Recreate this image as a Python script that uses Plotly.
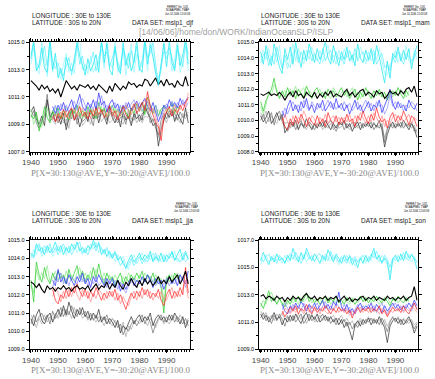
import plotly.graph_objects as go

# ---------------- time axes (annual values) ----------------
YEARS = list(range(1940, 1999))        # 59 values
YEARS_GREEN = list(range(1940, 1996))  # 56 values
YEARS_LATE = list(range(1948, 1999))   # 51 values
DECADE_TICKS = [1940, 1950, 1960, 1970, 1980, 1990]
DECADE_LABELS = ["1940", "1950", "1960", "1970", "1980", "1990"]

# ================= DJF =================
DJF_CYAN_A = [1013.8, 1015.2, 1012.9, 1013.4, 1014.6, 1013.1, 1012.8, 1015.3, 1013.0, 1014.2,
              1012.4, 1013.1, 1012.2, 1013.9, 1013.2, 1012.9, 1013.5, 1015.1, 1014.0, 1013.2,
              1012.6, 1013.8, 1012.9, 1013.4, 1014.1, 1012.8, 1015.2, 1013.5, 1014.9, 1013.0,
              1012.6, 1014.7, 1013.2, 1012.7, 1015.0, 1013.3, 1014.2, 1012.9, 1013.6, 1015.2,
              1013.1, 1012.8, 1015.3, 1013.4, 1014.8, 1013.9, 1012.7, 1012.0, 1013.6, 1014.9,
              1013.2, 1015.1, 1013.5, 1012.9, 1014.8, 1013.3, 1014.1, 1015.2, 1013.4]
DJF_CYAN_B = [1013.4, 1014.6, 1013.2, 1012.7, 1015.1, 1013.6, 1012.5, 1014.4, 1012.8, 1013.7,
              1012.9, 1012.3, 1013.4, 1014.2, 1012.8, 1013.5, 1012.7, 1014.6, 1015.2, 1013.0,
              1013.4, 1012.7, 1014.0, 1012.8, 1013.3, 1013.9, 1014.5, 1013.1, 1015.3, 1013.6,
              1013.1, 1015.2, 1012.8, 1013.5, 1014.4, 1012.6, 1013.8, 1014.9, 1012.8, 1014.1,
              1013.6, 1013.2, 1014.6, 1012.9, 1015.2, 1014.3, 1013.0, 1012.4, 1012.9, 1015.1,
              1013.8, 1014.3, 1012.9, 1013.7, 1015.3, 1012.8, 1013.6, 1014.7, 1012.9]
DJF_CYAN_C = [1014.1, 1014.9, 1013.6, 1013.1, 1013.8, 1014.7, 1013.3, 1015.0, 1013.6, 1013.1,
              1013.5, 1012.7, 1012.6, 1013.3, 1013.9, 1012.6, 1013.9, 1014.8, 1013.4, 1014.0,
              1012.9, 1013.2, 1013.5, 1014.3, 1012.9, 1013.6, 1014.9, 1014.0, 1014.3, 1013.2,
              1013.8, 1014.5, 1013.6, 1012.9, 1014.6, 1013.8, 1013.1, 1014.4, 1013.5, 1014.7,
              1012.9, 1013.7, 1015.1, 1013.9, 1014.2, 1015.0, 1013.5, 1011.8, 1013.2, 1014.3,
              1014.2, 1014.6, 1013.9, 1013.1, 1014.5, 1014.0, 1013.2, 1015.3, 1014.1]
DJF_THICK = [1012.2, 1012.0, 1011.8, 1011.5, 1011.9, 1011.6, 1011.8, 1011.4, 1011.6, 1011.3,
             1011.6, 1011.0, 1011.7, 1012.2, 1011.9, 1011.6, 1011.8, 1011.5, 1011.9, 1011.8,
             1011.7, 1011.9, 1011.6, 1011.8, 1011.5, 1011.9, 1011.7, 1011.5, 1011.3, 1011.8,
             1011.4, 1012.0, 1011.7, 1011.5, 1011.8, 1011.6, 1012.1, 1011.9, 1012.0, 1011.7,
             1011.9, 1011.8, 1012.3, 1012.2, 1011.8, 1012.1, 1012.4, 1011.9, 1012.2, 1011.8,
             1012.3, 1011.9, 1012.0, 1011.7, 1012.2, 1011.9, 1011.8, 1012.5, 1011.8]
DJF_GRAY_A = [1009.9, 1010.3, 1009.4, 1009.0, 1009.6, 1008.9, 1010.8, 1009.5, 1009.9, 1009.2,
              1009.6, 1009.0, 1009.8, 1008.6, 1009.4, 1010.1, 1009.3, 1009.7, 1008.8, 1009.5,
              1009.8, 1009.2, 1010.2, 1009.4, 1009.9, 1009.1, 1010.0, 1009.6, 1009.0, 1010.3,
              1009.5, 1009.1, 1009.7, 1008.8, 1009.9, 1009.3, 1009.6, 1008.9, 1009.8, 1009.4,
              1009.7, 1009.3, 1010.4, 1009.8, 1009.5, 1008.9, 1009.1, 1007.4, 1008.6, 1009.3,
              1009.9, 1009.5, 1010.1, 1009.2, 1009.8, 1009.4, 1009.0, 1010.2, 1009.1]
DJF_GRAY_B = [1009.5, 1010.0, 1009.1, 1008.7, 1009.3, 1009.7, 1011.2, 1009.2, 1009.5, 1009.8,
              1009.1, 1009.6, 1009.3, 1008.9, 1009.9, 1009.4, 1010.2, 1009.0, 1009.6, 1009.2,
              1009.4, 1009.9, 1009.5, 1008.9, 1010.3, 1009.5, 1009.7, 1010.1, 1009.3, 1009.7,
              1009.9, 1009.4, 1009.1, 1009.5, 1009.6, 1009.0, 1010.1, 1009.4, 1009.3, 1010.0,
              1009.2, 1009.8, 1009.9, 1010.2, 1009.1, 1009.4, 1008.7, 1008.2, 1009.3, 1009.8,
              1009.4, 1010.0, 1009.6, 1009.8, 1009.3, 1009.9, 1009.5, 1009.7, 1009.6]
DJF_GRAY_C = [1010.1, 1009.6, 1009.8, 1008.8, 1009.1, 1009.4, 1010.6, 1010.0, 1009.3, 1009.0,
              1009.8, 1009.3, 1009.1, 1009.4, 1008.7, 1009.9, 1009.6, 1009.3, 1009.9, 1008.9,
              1009.2, 1009.6, 1009.0, 1009.7, 1009.5, 1009.8, 1009.2, 1009.5, 1009.6, 1009.1,
              1009.3, 1009.7, 1009.4, 1009.2, 1009.0, 1009.6, 1009.8, 1009.1, 1009.7, 1009.1,
              1009.5, 1009.1, 1009.6, 1009.5, 1009.8, 1009.2, 1009.4, 1008.0, 1008.9, 1009.6,
              1009.1, 1009.7, 1009.9, 1009.4, 1009.5, 1009.1, 1009.8, 1009.4, 1009.9]
DJF_GREEN_A = [1009.7, 1009.4, 1009.9, 1008.5, 1009.2, 1010.3, 1009.5, 1009.1, 1010.0, 1009.6,
               1010.2, 1009.4, 1010.0, 1009.7, 1009.3, 1010.1, 1009.8, 1010.4, 1009.6, 1010.0,
               1009.5, 1010.3, 1009.7, 1010.1, 1009.4, 1010.6, 1009.9, 1010.2, 1009.5, 1010.0,
               1010.4, 1009.8, 1010.1, 1009.6, 1010.3, 1009.9, 1009.5, 1010.2, 1009.8, 1010.5,
               1010.0, 1010.6, 1009.7, 1011.0, 1010.3, 1009.8, 1010.4, 1009.6, 1010.1, 1010.3,
               1009.9, 1010.2, 1010.6, 1009.8, 1010.3, 1010.1]
DJF_GREEN_B = [1010.1, 1009.0, 1009.6, 1009.2, 1008.8, 1009.8, 1010.2, 1009.4, 1009.7, 1010.3,
               1009.6, 1009.9, 1009.4, 1010.3, 1009.8, 1009.5, 1010.1, 1009.7, 1010.3, 1009.4,
               1010.0, 1009.6, 1010.2, 1009.5, 1010.0, 1009.7, 1010.3, 1009.6, 1010.1, 1009.8,
               1009.7, 1010.2, 1009.6, 1010.3, 1009.8, 1010.4, 1010.0, 1009.7, 1010.5, 1010.1,
               1010.3, 1009.9, 1010.5, 1010.6, 1009.9, 1010.2, 1009.8, 1010.1, 1009.7, 1010.4,
               1010.3, 1009.7, 1010.1, 1010.5, 1009.9, 1010.4]
DJF_BLUE_A = [1010.3, 1009.8,
              1010.4, 1010.0, 1010.6, 1009.9, 1010.3, 1010.8, 1010.1, 1010.5, 1011.2, 1010.3,
              1010.0, 1010.6, 1010.2, 1010.8, 1010.1, 1011.3, 1010.4, 1010.7, 1009.9, 1010.5,
              1010.8, 1010.2, 1010.5, 1009.8, 1010.4, 1010.1, 1010.6, 1010.0, 1010.3, 1010.7,
              1010.2, 1010.5, 1010.9, 1010.3, 1010.0, 1010.6, 1009.8, 1009.2, 1009.7, 1010.4,
              1010.1, 1010.8, 1010.3, 1010.6, 1010.2, 1010.9, 1010.4, 1010.7, 1011.0]
DJF_BLUE_B = [1009.9, 1010.4,
              1009.8, 1010.5, 1010.0, 1010.4, 1009.9, 1010.3, 1010.7, 1010.0, 1010.6, 1010.9,
              1010.4, 1009.9, 1010.5, 1010.1, 1010.7, 1010.3, 1011.1, 1010.2, 1010.4, 1009.8,
              1010.3, 1010.6, 1010.0, 1010.4, 1009.9, 1010.6, 1010.2, 1010.5, 1010.8, 1010.1,
              1010.6, 1010.0, 1010.4, 1010.7, 1010.3, 1009.9, 1010.4, 1009.6, 1009.4, 1010.1,
              1010.5, 1010.2, 1010.7, 1010.1, 1010.6, 1010.3, 1010.8, 1010.2, 1010.6]
DJF_RED_A = [1009.6, 1009.2,
             1009.8, 1009.4, 1010.1, 1009.5, 1009.9, 1010.2, 1009.3, 1009.8, 1010.3, 1009.6,
             1009.9, 1009.4, 1010.0, 1009.6, 1010.2, 1009.7, 1010.1, 1009.5, 1009.8, 1010.4,
             1009.6, 1010.0, 1009.3, 1009.9, 1010.3, 1009.7, 1009.4, 1010.1, 1010.5, 1009.8,
             1010.2, 1010.6, 1010.0, 1011.4, 1010.3, 1009.7, 1009.1, 1008.8, 1007.8, 1009.5,
             1009.9, 1010.3, 1009.6, 1010.1, 1009.8, 1010.4, 1010.0, 1010.6, 1010.9]
DJF_RED_B = [1009.3, 1009.8,
             1009.2, 1009.9, 1009.5, 1010.0, 1009.4, 1009.7, 1010.1, 1009.5, 1009.9, 1010.2,
             1009.5, 1010.0, 1009.4, 1010.1, 1009.6, 1010.3, 1009.8, 1010.0, 1009.5, 1009.9,
             1010.1, 1009.5, 1010.0, 1009.6, 1009.9, 1010.4, 1009.9, 1009.7, 1010.2, 1010.6,
             1009.9, 1010.3, 1010.8, 1010.9, 1009.8, 1010.2, 1009.5, 1009.0, 1008.4, 1009.8,
             1010.2, 1009.7, 1010.1, 1010.4, 1009.9, 1010.1, 1010.5, 1010.2, 1011.3]

# ================= MAM =================
MAM_CYAN_A = [1014.4, 1013.6, 1014.8, 1014.0, 1013.5, 1014.9, 1014.2, 1013.4, 1013.0, 1014.6,
              1013.9, 1014.7, 1013.6, 1015.0, 1014.1, 1013.4, 1014.5, 1013.8, 1014.9, 1014.2,
              1013.7, 1014.6, 1013.9, 1014.3, 1015.1, 1014.0, 1013.6, 1014.8, 1014.2, 1013.5,
              1014.4, 1013.9, 1014.7, 1013.8, 1014.2, 1013.5, 1014.9, 1014.0, 1013.7, 1014.5,
              1013.9, 1014.6, 1013.6, 1014.8, 1014.1, 1013.2, 1012.4, 1013.8, 1012.7, 1014.3,
              1014.0, 1014.7, 1013.8, 1014.5, 1013.9, 1014.6, 1013.3, 1014.2, 1014.8]
MAM_CYAN_B = [1014.0, 1014.5, 1013.9, 1014.6, 1013.8, 1014.3, 1013.7, 1014.8, 1013.4, 1013.9,
              1013.3, 1014.2, 1014.9, 1013.8, 1014.6, 1014.0, 1013.6, 1014.5, 1013.9, 1014.7,
              1014.1, 1013.8, 1014.5, 1013.7, 1014.4, 1014.8, 1013.9, 1014.2, 1013.6, 1014.5,
              1013.8, 1014.6, 1014.0, 1014.4, 1013.7, 1014.3, 1014.0, 1014.7, 1014.1, 1013.6,
              1014.4, 1013.8, 1014.3, 1013.9, 1014.6, 1013.7, 1013.0, 1012.9, 1013.6, 1013.8,
              1014.5, 1013.7, 1014.3, 1013.9, 1014.8, 1013.8, 1013.6, 1014.5, 1013.9]
MAM_CYAN_C = [1013.7, 1014.2, 1014.4, 1013.5, 1014.1, 1013.6, 1014.7, 1014.0, 1013.3, 1014.2,
              1013.6, 1013.4, 1014.3, 1014.5, 1013.7, 1014.4, 1013.9, 1014.1, 1014.5, 1013.8,
              1014.3, 1013.9, 1013.6, 1014.6, 1013.8, 1014.3, 1014.5, 1013.7, 1014.4, 1013.9,
              1014.1, 1013.6, 1014.3, 1014.5, 1013.9, 1014.6, 1013.8, 1014.2, 1014.4, 1013.9,
              1013.8, 1014.2, 1014.5, 1013.6, 1014.0, 1014.3, 1013.4, 1013.5, 1013.2, 1014.1,
              1013.7, 1014.4, 1014.0, 1013.6, 1014.3, 1014.1, 1013.8, 1014.0, 1014.4]
MAM_THICK = [1011.7, 1011.6, 1011.7, 1011.8, 1011.6, 1011.7, 1011.6, 1011.8, 1011.6, 1011.3,
             1011.6, 1011.8, 1011.5, 1011.9, 1011.6, 1011.7, 1011.4, 1011.8, 1011.6, 1011.5,
             1011.8, 1011.4, 1011.7, 1011.5, 1011.8, 1011.6, 1011.9, 1011.5, 1011.7, 1011.6,
             1011.5, 1011.8, 1012.0, 1011.6, 1011.8, 1011.5, 1011.7, 1011.9, 1012.0, 1011.6,
             1011.8, 1011.7, 1011.5, 1011.9, 1011.7, 1011.8, 1011.4, 1011.6, 1011.9, 1011.7,
             1011.8, 1011.6, 1011.9, 1011.7, 1012.0, 1012.1, 1011.8, 1012.2, 1011.5]
MAM_GRAY_A = [1010.3, 1009.9, 1010.2, 1010.6, 1009.8, 1010.1, 1010.5, 1010.0, 1010.4, 1009.2,
              1009.5, 1009.9, 1009.6, 1010.0, 1009.4, 1009.8, 1009.6, 1010.1, 1009.7, 1009.4,
              1009.8, 1009.5, 1009.9, 1009.6, 1010.0, 1009.7, 1009.4, 1009.8, 1009.5, 1009.9,
              1009.7, 1010.0, 1009.5, 1009.8, 1009.3, 1009.7, 1009.9, 1009.4, 1009.8, 1009.6,
              1009.9, 1009.5, 1009.8, 1009.6, 1010.0, 1009.4, 1008.3, 1009.1, 1009.6, 1009.9,
              1009.5, 1009.8, 1009.6, 1010.0, 1009.7, 1009.4, 1009.8, 1009.5, 1008.9]
MAM_GRAY_B = [1010.0, 1010.4, 1009.8, 1010.2, 1010.5, 1009.7, 1010.3, 1010.6, 1009.9, 1009.6,
              1009.3, 1009.7, 1009.9, 1009.4, 1009.8, 1010.0, 1009.5, 1009.6, 1009.9, 1009.7,
              1009.4, 1009.8, 1009.6, 1009.9, 1009.5, 1009.8, 1010.0, 1009.6, 1009.3, 1009.7,
              1009.9, 1009.4, 1009.8, 1009.6, 1009.9, 1009.5, 1009.7, 1009.9, 1009.5, 1009.8,
              1009.6, 1009.9, 1009.4, 1009.7, 1009.5, 1009.8, 1008.6, 1009.4, 1009.8, 1009.5,
              1009.8, 1009.6, 1009.9, 1009.5, 1009.8, 1009.6, 1009.9, 1009.3, 1009.4]
MAM_GRAY_C = [1010.5, 1010.1, 1010.6, 1009.9, 1010.3, 1010.0, 1009.8, 1010.3, 1010.1, 1009.8,
              1009.9, 1009.5, 1009.8, 1009.7, 1009.5, 1009.9, 1009.7, 1009.4, 1009.8, 1009.5,
              1009.7, 1009.6, 1009.8, 1009.4, 1009.7, 1009.5, 1009.8, 1009.4, 1009.7, 1009.5,
              1009.6, 1009.8, 1009.7, 1009.4, 1009.6, 1009.9, 1009.5, 1009.7, 1009.6, 1009.9,
              1009.7, 1009.6, 1009.9, 1009.5, 1009.7, 1009.6, 1008.9, 1009.5, 1009.6, 1009.7,
              1009.6, 1009.9, 1009.5, 1009.8, 1009.6, 1009.8, 1009.5, 1009.7, 1009.2]
MAM_GREEN_A = [1011.2, 1010.6, 1011.3, 1011.6, 1012.0, 1012.7, 1011.8, 1011.4, 1011.9, 1011.5,
               1012.1, 1011.6, 1011.9, 1011.4, 1012.0, 1011.7, 1011.5, 1012.2, 1011.8, 1011.4,
               1011.9, 1012.1, 1011.6, 1011.8, 1011.4, 1012.0, 1011.7, 1011.9, 1011.5, 1011.8,
               1012.1, 1011.6, 1011.9, 1011.4, 1011.7, 1012.0, 1011.3, 1011.8, 1011.5, 1012.1,
               1011.7, 1011.4, 1011.9, 1011.6, 1012.0, 1011.5, 1011.8, 1011.3, 1011.7, 1011.9,
               1011.6, 1012.1, 1011.7, 1011.4, 1011.9, 1011.6]
MAM_GREEN_B = [1010.9, 1010.4, 1011.0, 1011.9, 1011.6, 1012.3, 1012.0, 1011.5, 1011.7, 1011.9,
               1011.6, 1012.0, 1011.7, 1012.2, 1011.5, 1011.9, 1012.1, 1011.6, 1011.9, 1011.7,
               1011.5, 1011.8, 1012.0, 1011.5, 1011.9, 1011.6, 1011.4, 1012.1, 1011.8, 1011.5,
               1011.8, 1011.9, 1011.5, 1011.8, 1012.1, 1011.6, 1011.8, 1011.4, 1011.9, 1011.7,
               1011.9, 1011.7, 1011.4, 1011.9, 1011.6, 1011.8, 1011.4, 1011.7, 1011.9, 1011.5,
               1011.9, 1011.6, 1012.0, 1011.8, 1011.5, 1011.9]
MAM_BLUE_A = [1010.6, 1010.2,
              1010.9, 1011.3, 1010.6, 1011.0, 1010.5, 1011.2, 1010.8, 1011.4, 1010.7, 1011.0,
              1010.5, 1011.1, 1010.8, 1011.3, 1010.6, 1010.9, 1011.2, 1010.7, 1011.4, 1010.8,
              1011.1, 1010.6, 1011.0, 1010.4, 1010.9, 1011.3, 1010.7, 1011.0, 1010.5, 1010.9,
              1011.2, 1010.6, 1011.0, 1010.8, 1011.3, 1010.5, 1010.9, 1011.4, 1012.0, 1011.1,
              1010.7, 1011.2, 1010.8, 1011.0, 1010.6, 1011.3, 1010.9, 1010.7, 1011.1]
MAM_BLUE_B = [1010.3, 1010.8,
              1010.4, 1010.9, 1011.2, 1010.7, 1011.0, 1010.6, 1011.3, 1010.9, 1010.6, 1011.2,
              1010.9, 1010.7, 1011.1, 1010.6, 1011.0, 1011.3, 1010.8, 1011.1, 1010.7, 1011.0,
              1010.7, 1011.2, 1010.8, 1011.1, 1010.6, 1010.9, 1011.2, 1010.6, 1011.0, 1011.3,
              1010.8, 1011.1, 1010.6, 1011.2, 1010.9, 1011.0, 1010.4, 1010.8, 1011.6, 1010.9,
              1011.2, 1010.8, 1011.1, 1010.6, 1011.0, 1010.8, 1011.2, 1011.0, 1010.6]
MAM_RED_A = [1010.2, 1009.6,
             1009.4, 1010.1, 1009.7, 1010.3, 1009.8, 1010.4, 1010.0, 1009.6, 1010.2, 1009.9,
             1009.7, 1010.3, 1009.8, 1010.1, 1009.6, 1010.5, 1010.0, 1009.8, 1010.3, 1009.7,
             1010.2, 1009.8, 1010.4, 1009.9, 1010.1, 1009.6, 1010.3, 1010.0, 1010.6, 1010.1,
             1009.8, 1010.4, 1010.0, 1010.8, 1010.2, 1009.9, 1010.1, 1009.5, 1010.2, 1010.5,
             1009.9, 1010.3, 1010.0, 1010.6, 1010.2, 1009.7, 1010.3, 1010.1, 1009.6]
MAM_RED_B = [1009.8, 1010.4,
             1009.9, 1009.6, 1010.3, 1009.8, 1010.2, 1010.0, 1010.6, 1010.1, 1009.7, 1010.3,
             1010.1, 1009.6, 1010.2, 1009.9, 1010.4, 1009.8, 1010.1, 1010.3, 1009.9, 1010.2,
             1009.8, 1010.2, 1009.9, 1010.4, 1009.8, 1010.3, 1009.9, 1010.5, 1010.1, 1009.8,
             1010.3, 1009.9, 1010.5, 1010.2, 1009.8, 1010.3, 1009.6, 1010.0, 1009.8, 1010.2,
             1010.4, 1009.8, 1010.3, 1009.9, 1010.1, 1010.4, 1009.8, 1010.2, 1010.0]

# ================= JJA =================
JJA_CYAN_A = [1014.3, 1014.1, 1014.8, 1014.4, 1014.6, 1014.2, 1014.7, 1014.3, 1014.5, 1014.9,
              1014.4, 1014.7, 1014.2, 1014.6, 1014.3, 1014.8, 1014.5, 1014.9, 1014.4, 1014.6,
              1014.3, 1014.7, 1014.5, 1015.0, 1014.6, 1014.8, 1014.2, 1014.5, 1014.1, 1014.4,
              1014.0, 1014.3, 1013.9, 1014.1, 1013.7, 1013.5, 1013.9, 1014.2, 1013.8, 1014.0,
              1014.3, 1013.9, 1014.2, 1014.0, 1014.4, 1013.8, 1014.1, 1013.9, 1014.3, 1013.8,
              1014.2, 1014.0, 1014.4, 1013.9, 1014.2, 1014.5, 1013.9, 1014.3, 1014.0]
JJA_CYAN_B = [1014.0, 1014.5, 1014.2, 1014.7, 1014.1, 1014.5, 1014.3, 1014.6, 1014.1, 1014.4,
              1014.7, 1014.3, 1014.6, 1014.2, 1014.7, 1014.4, 1014.8, 1014.3, 1014.6, 1014.2,
              1014.6, 1014.4, 1014.8, 1014.5, 1014.9, 1014.3, 1014.6, 1014.2, 1014.5, 1014.0,
              1014.3, 1013.8, 1014.2, 1013.9, 1014.1, 1013.7, 1013.4, 1013.9, 1014.2, 1013.7,
              1014.0, 1014.3, 1013.8, 1014.2, 1013.9, 1014.3, 1013.9, 1014.2, 1013.8, 1014.1,
              1013.9, 1014.3, 1014.0, 1014.4, 1013.8, 1014.1, 1014.3, 1013.8, 1014.1]
JJA_CYAN_C = [1014.2, 1014.0, 1014.6, 1014.8, 1014.3, 1014.7, 1014.4, 1014.8, 1014.3, 1014.6,
              1014.2, 1014.5, 1014.8, 1014.4, 1014.6, 1014.2, 1014.5, 1014.7, 1014.9, 1014.3,
              1014.5, 1014.2, 1014.6, 1014.8, 1014.4, 1014.9, 1014.5, 1014.3, 1014.6, 1014.2,
              1014.1, 1014.4, 1014.0, 1013.6, 1013.9, 1013.4, 1013.7, 1014.0, 1013.6, 1013.9,
              1014.1, 1013.7, 1014.0, 1013.8, 1014.2, 1013.9, 1014.3, 1013.8, 1014.0, 1014.2,
              1013.8, 1014.1, 1014.3, 1013.9, 1014.0, 1013.8, 1014.1, 1014.4, 1013.9]
JJA_THICK = [1012.7, 1012.6, 1012.4, 1012.6, 1012.3, 1012.1, 1012.5, 1012.3, 1012.4, 1012.2,
             1012.4, 1012.3, 1012.5, 1012.3, 1012.4, 1012.2, 1012.4, 1012.5, 1012.3, 1012.4,
             1012.3, 1012.5, 1012.2, 1012.4, 1012.6, 1012.3, 1012.5, 1012.4, 1012.7, 1012.3,
             1012.6, 1012.4, 1012.8, 1012.5, 1012.3, 1012.7, 1012.5, 1012.9, 1012.6, 1012.4,
             1012.8, 1012.5, 1012.9, 1012.6, 1012.8, 1012.5, 1012.7, 1013.0, 1012.6, 1012.8,
             1012.6, 1013.0, 1012.7, 1012.9, 1013.1, 1012.6, 1012.9, 1013.3, 1012.6]
JJA_GRAY_A = [1010.7, 1010.3, 1010.9, 1011.2, 1010.6, 1010.4, 1010.8, 1011.0, 1010.5, 1010.9,
              1011.2, 1010.8, 1011.4, 1010.9, 1011.6, 1011.1, 1010.7, 1011.2, 1010.9, 1011.3,
              1010.8, 1011.1, 1010.6, 1011.0, 1010.7, 1011.2, 1010.5, 1010.8, 1010.4, 1010.7,
              1010.5, 1010.2, 1010.6, 1009.9, 1010.3, 1010.1, 1010.5, 1010.8, 1010.4, 1010.7,
              1010.9, 1010.5, 1010.8, 1010.6, 1011.0, 1010.3, 1010.7, 1010.9, 1010.6, 1010.8,
              1010.5, 1010.9, 1010.6, 1011.0, 1010.7, 1010.4, 1010.8, 1010.2, 1010.6]
JJA_GRAY_B = [1010.4, 1010.9, 1010.5, 1010.8, 1011.0, 1010.6, 1010.9, 1010.4, 1011.1, 1010.7,
              1010.9, 1011.3, 1010.8, 1011.2, 1010.9, 1011.4, 1011.0, 1010.8, 1011.3, 1010.9,
              1011.1, 1010.7, 1011.0, 1010.6, 1010.9, 1010.5, 1010.8, 1010.6, 1010.9, 1010.4,
              1010.7, 1010.5, 1010.2, 1010.4, 1009.8, 1010.2, 1010.0, 1010.4, 1010.6, 1010.3,
              1010.6, 1010.9, 1010.4, 1010.8, 1010.5, 1009.9, 1010.4, 1010.7, 1010.9, 1010.5,
              1010.8, 1010.6, 1010.9, 1010.5, 1010.8, 1010.6, 1010.4, 1010.7, 1010.3]
JJA_GRAY_C = [1010.9, 1010.6, 1010.2, 1010.7, 1010.4, 1010.9, 1010.5, 1010.8, 1010.6, 1011.0,
              1010.7, 1011.0, 1011.2, 1010.8, 1011.1, 1010.7, 1011.3, 1010.9, 1011.1, 1010.7,
              1010.9, 1010.6, 1010.9, 1010.7, 1010.5, 1010.8, 1010.6, 1010.3, 1010.7, 1010.5,
              1010.3, 1010.6, 1010.4, 1010.1, 1010.5, 1009.7, 1010.3, 1010.1, 1010.5, 1010.6,
              1010.4, 1010.7, 1010.6, 1010.3, 1010.7, 1010.5, 1010.2, 1010.6, 1010.8, 1010.4,
              1010.6, 1010.4, 1010.7, 1010.8, 1010.5, 1010.9, 1010.6, 1010.4, 1010.7]
JJA_GREEN_A = [1012.8, 1011.6, 1013.8, 1013.1, 1012.7, 1013.5, 1012.9, 1012.6, 1013.2, 1012.8,
               1013.3, 1012.9, 1013.1, 1012.6, 1013.4, 1012.8, 1013.2, 1013.6, 1012.9, 1013.3,
               1012.7, 1013.1, 1012.8, 1013.5, 1012.9, 1013.7, 1013.0, 1012.6, 1013.2, 1012.8,
               1013.0, 1012.5, 1012.9, 1013.2, 1012.6, 1013.0, 1012.7, 1013.1, 1012.8, 1013.2,
               1012.9, 1013.3, 1012.7, 1013.1, 1012.8, 1013.2, 1012.6, 1013.0, 1012.4, 1011.0,
               1012.8, 1013.1, 1012.7, 1013.2, 1012.9, 1013.1]
JJA_GREEN_B = [1012.5, 1012.1, 1013.4, 1012.8, 1013.2, 1012.9, 1013.6, 1012.7, 1012.9, 1013.3,
               1012.8, 1013.2, 1012.7, 1013.3, 1012.9, 1013.1, 1012.7, 1013.2, 1013.5, 1012.8,
               1013.2, 1012.8, 1013.3, 1012.9, 1013.4, 1013.1, 1012.8, 1013.2, 1012.7, 1013.1,
               1012.7, 1013.1, 1012.8, 1012.6, 1013.0, 1012.7, 1013.2, 1012.8, 1013.0, 1012.7,
               1013.1, 1012.8, 1013.2, 1012.9, 1013.0, 1012.7, 1013.1, 1012.8, 1012.9, 1011.6,
               1013.0, 1012.7, 1013.1, 1012.8, 1013.2, 1012.9]
JJA_BLUE_A = [1012.8, 1012.5,
              1013.4, 1012.7, 1013.0, 1012.6, 1013.1, 1012.8, 1012.5, 1013.0, 1012.7, 1013.2,
              1012.6, 1012.9, 1012.4, 1013.0, 1012.7, 1013.1, 1012.8, 1012.5, 1012.9, 1012.6,
              1012.9, 1012.4, 1012.8, 1012.2, 1012.6, 1012.3, 1012.7, 1012.9, 1012.5, 1012.8,
              1012.6, 1013.0, 1012.7, 1013.1, 1012.8, 1012.4, 1012.9, 1012.6, 1012.8, 1012.3,
              1012.7, 1013.0, 1012.6, 1012.9, 1012.5, 1013.1, 1012.8, 1012.6, 1013.3]
JJA_BLUE_B = [1012.4, 1013.0,
              1012.7, 1013.2, 1012.6, 1012.9, 1012.5, 1013.0, 1012.8, 1012.6, 1013.1, 1012.7,
              1012.9, 1012.5, 1012.8, 1012.6, 1013.0, 1012.5, 1012.7, 1012.9, 1012.4, 1012.8,
              1012.5, 1012.8, 1012.3, 1012.7, 1012.4, 1012.1, 1012.5, 1012.7, 1012.9, 1012.4,
              1012.8, 1012.5, 1012.9, 1012.6, 1013.0, 1012.7, 1012.5, 1012.8, 1012.4, 1012.6,
              1012.9, 1012.5, 1012.8, 1012.6, 1012.9, 1012.7, 1013.0, 1012.4, 1012.8]
JJA_RED_A = [1012.3, 1011.7,
             1011.5, 1012.0, 1011.8, 1012.3, 1011.9, 1012.4, 1012.1, 1012.6, 1012.2, 1011.9,
             1012.3, 1011.8, 1012.2, 1011.9, 1012.4, 1012.0, 1011.7, 1012.1, 1011.8, 1012.2,
             1011.9, 1012.3, 1011.7, 1012.0, 1011.6, 1011.2, 1011.7, 1012.1, 1011.8, 1012.2,
             1011.9, 1012.4, 1012.0, 1012.3, 1011.8, 1012.1, 1011.9, 1012.3, 1011.7, 1011.4,
             1012.0, 1012.3, 1011.8, 1012.2, 1011.9, 1012.4, 1012.0, 1013.5, 1012.1]
JJA_RED_B = [1011.9, 1012.4,
             1012.1, 1011.6, 1012.2, 1011.8, 1012.3, 1011.9, 1012.5, 1012.0, 1011.7, 1012.3,
             1011.9, 1012.2, 1011.6, 1012.1, 1011.8, 1012.3, 1012.1, 1011.7, 1012.2, 1011.9,
             1012.2, 1011.7, 1012.1, 1011.5, 1011.9, 1011.6, 1011.4, 1011.9, 1012.2, 1011.7,
             1012.2, 1011.8, 1012.3, 1011.9, 1012.2, 1011.7, 1012.1, 1011.8, 1012.2, 1011.8,
             1011.7, 1012.1, 1012.4, 1011.8, 1012.2, 1011.9, 1012.3, 1012.8, 1011.8]

# ================= SON =================
SON_CYAN_A = [1015.5, 1016.1, 1015.6, 1015.2, 1015.8, 1015.4, 1016.0, 1015.5, 1015.7, 1015.3,
              1015.9, 1015.5, 1016.4, 1015.8, 1015.4, 1016.1, 1015.6, 1016.4, 1015.9, 1015.5,
              1016.0, 1015.6, 1015.3, 1015.9, 1015.5, 1016.3, 1015.8, 1015.4, 1016.0, 1015.6,
              1015.3, 1015.9, 1015.5, 1015.8, 1015.2, 1015.6, 1015.0, 1015.7, 1015.3, 1015.9,
              1015.4, 1015.8, 1016.4, 1015.6, 1015.9, 1015.3, 1015.7, 1015.4, 1014.1, 1015.6,
              1015.9, 1015.4, 1016.0, 1015.5, 1016.2, 1015.7, 1015.9, 1015.6, 1014.9]
SON_CYAN_B = [1015.2, 1015.7, 1015.9, 1015.4, 1015.6, 1015.9, 1015.5, 1015.8, 1015.3, 1015.9,
              1015.4, 1015.8, 1015.9, 1015.5, 1015.8, 1015.6, 1016.0, 1015.4, 1015.7, 1015.9,
              1015.5, 1015.8, 1015.6, 1015.4, 1016.0, 1015.7, 1015.5, 1015.9, 1015.6, 1015.2,
              1015.7, 1015.4, 1015.9, 1015.3, 1015.7, 1015.1, 1015.5, 1015.8, 1015.6, 1015.3,
              1015.8, 1015.5, 1016.1, 1015.8, 1015.4, 1015.9, 1015.5, 1015.2, 1014.6, 1015.4,
              1015.7, 1015.9, 1015.5, 1015.8, 1015.6, 1016.0, 1015.4, 1015.8, 1015.3]
SON_CYAN_C = [1015.7, 1015.4, 1015.8, 1016.0, 1015.5, 1015.7, 1015.3, 1015.9, 1015.6, 1015.4,
              1015.7, 1016.0, 1015.6, 1016.1, 1015.7, 1015.3, 1015.8, 1016.1, 1015.6, 1015.8,
              1015.4, 1015.9, 1016.0, 1015.6, 1015.8, 1015.5, 1016.2, 1015.6, 1015.8, 1015.4,
              1015.8, 1015.6, 1015.3, 1015.9, 1015.5, 1015.8, 1015.4, 1015.6, 1015.9, 1015.5,
              1015.6, 1016.0, 1015.7, 1016.2, 1015.6, 1015.4, 1015.9, 1015.6, 1015.0, 1015.7,
              1015.5, 1015.8, 1015.6, 1016.1, 1015.7, 1015.5, 1016.0, 1015.7, 1015.4]
SON_THICK = [1012.9, 1013.0, 1012.7, 1012.9, 1012.8, 1012.6, 1012.9, 1012.7, 1012.8, 1012.5,
             1012.8, 1012.6, 1012.9, 1012.7, 1012.8, 1012.6, 1012.9, 1013.1, 1012.8, 1012.7,
             1012.9, 1012.6, 1012.8, 1012.7, 1012.9, 1012.6, 1012.8, 1012.7, 1012.9, 1012.5,
             1012.7, 1012.9, 1012.6, 1012.8, 1012.5, 1012.7, 1012.6, 1012.8, 1012.9, 1012.6,
             1012.8, 1012.7, 1012.9, 1012.6, 1012.8, 1012.7, 1012.6, 1012.9, 1012.7, 1012.8,
             1012.6, 1012.8, 1012.7, 1012.9, 1012.6, 1012.8, 1012.9, 1013.6, 1012.6]
SON_GRAY_A = [1011.6, 1011.2, 1011.5, 1011.0, 1011.3, 1011.7, 1011.2, 1011.4, 1010.8, 1011.3,
              1011.0, 1011.5, 1011.1, 1011.6, 1011.2, 1010.9, 1011.4, 1011.7, 1011.1, 1011.5,
              1011.2, 1011.6, 1011.0, 1011.3, 1011.5, 1011.1, 1011.4, 1011.0, 1011.3, 1010.8,
              1011.2, 1010.6, 1011.0, 1010.4, 1009.7, 1010.8, 1011.1, 1010.7, 1011.2, 1010.9,
              1011.3, 1010.8, 1011.2, 1010.9, 1011.4, 1011.0, 1010.6, 1009.5, 1010.7, 1011.1,
              1011.3, 1010.9, 1011.2, 1010.8, 1011.1, 1011.4, 1010.9, 1010.2, 1010.7]
SON_GRAY_B = [1011.3, 1011.7, 1011.1, 1011.4, 1010.9, 1011.5, 1011.1, 1011.6, 1011.2, 1010.7,
              1011.4, 1011.1, 1011.5, 1011.0, 1011.3, 1011.6, 1010.9, 1011.3, 1011.6, 1011.1,
              1011.4, 1011.0, 1011.3, 1011.6, 1011.1, 1011.4, 1010.9, 1011.2, 1010.8, 1011.3,
              1010.9, 1011.2, 1010.7, 1011.0, 1010.5, 1010.9, 1010.6, 1011.1, 1010.8, 1011.2,
              1011.0, 1011.3, 1010.9, 1011.2, 1010.8, 1011.3, 1010.9, 1010.3, 1011.0, 1011.4,
              1011.0, 1011.3, 1010.8, 1011.2, 1010.9, 1011.2, 1011.0, 1010.5, 1010.9]
SON_GRAY_C = [1011.8, 1011.4, 1011.7, 1011.2, 1011.5, 1011.1, 1011.6, 1011.3, 1011.7, 1011.2,
              1011.5, 1011.0, 1011.4, 1011.3, 1011.6, 1011.2, 1011.5, 1010.9, 1011.3, 1011.6,
              1011.0, 1011.3, 1011.5, 1011.1, 1011.4, 1011.0, 1011.3, 1011.5, 1011.0, 1011.2,
              1011.5, 1011.0, 1011.3, 1010.8, 1011.1, 1010.6, 1011.0, 1011.3, 1010.9, 1011.1,
              1011.4, 1011.1, 1011.3, 1011.0, 1011.2, 1010.8, 1011.2, 1010.7, 1011.1, 1011.3,
              1011.1, 1011.4, 1011.0, 1011.3, 1011.1, 1010.9, 1011.2, 1010.8, 1011.0]
SON_GREEN_A = [1012.4, 1012.0, 1012.6, 1013.3, 1012.5, 1012.8, 1012.3, 1012.7, 1012.4, 1012.1,
               1012.6, 1012.3, 1012.8, 1012.5, 1012.9, 1012.4, 1012.7, 1013.1, 1012.5, 1012.8,
               1012.4, 1012.7, 1012.3, 1012.6, 1012.9, 1012.4, 1012.7, 1012.5, 1012.9, 1012.4,
               1012.6, 1012.3, 1012.8, 1012.5, 1012.7, 1012.3, 1012.6, 1012.9, 1012.5, 1012.8,
               1012.4, 1012.7, 1012.5, 1012.9, 1012.6, 1012.4, 1012.8, 1012.5, 1012.2, 1012.7,
               1012.5, 1012.9, 1012.6, 1012.4, 1012.8, 1012.5]
SON_GREEN_B = [1012.1, 1012.6, 1012.3, 1012.9, 1013.2, 1012.6, 1012.4, 1012.8, 1012.2, 1012.6,
               1012.3, 1012.7, 1012.4, 1012.6, 1012.3, 1012.8, 1012.5, 1012.7, 1012.9, 1012.4,
               1012.7, 1012.5, 1012.8, 1012.4, 1012.6, 1012.8, 1012.3, 1012.6, 1012.4, 1012.7,
               1012.3, 1012.7, 1012.5, 1012.3, 1012.8, 1012.6, 1012.4, 1012.7, 1012.8, 1012.5,
               1012.7, 1012.4, 1012.8, 1012.6, 1012.3, 1012.7, 1012.5, 1012.8, 1012.4, 1012.6,
               1012.8, 1012.4, 1012.7, 1012.9, 1012.5, 1012.7]
SON_BLUE_A = [1012.3, 1011.8,
              1011.6, 1012.2, 1011.9, 1012.4, 1012.0, 1012.5, 1012.2, 1011.8, 1012.3, 1012.0,
              1012.4, 1011.9, 1012.2, 1012.6, 1012.0, 1012.3, 1011.9, 1012.5, 1012.2, 1013.2,
              1012.1, 1011.8, 1012.3, 1011.7, 1012.0, 1011.6, 1012.1, 1012.4, 1011.9, 1012.2,
              1012.0, 1012.4, 1011.8, 1012.3, 1012.0, 1011.7, 1012.2, 1011.8, 1012.1, 1012.4,
              1012.0, 1012.3, 1011.9, 1012.2, 1012.0, 1012.4, 1012.1, 1012.6, 1012.2]
SON_BLUE_B = [1011.9, 1012.4,
              1012.0, 1011.7, 1012.3, 1011.9, 1012.2, 1011.8, 1012.4, 1012.0, 1012.2, 1011.7,
              1012.1, 1012.4, 1011.8, 1012.2, 1012.5, 1011.9, 1012.2, 1011.9, 1012.4, 1012.1,
              1011.8, 1012.3, 1011.9, 1012.1, 1011.5, 1011.9, 1012.3, 1011.8, 1012.2, 1011.9,
              1012.3, 1011.9, 1012.2, 1011.7, 1012.1, 1012.4, 1011.9, 1011.6, 1012.0, 1012.2,
              1012.4, 1011.9, 1012.2, 1011.8, 1012.3, 1012.0, 1011.8, 1012.4, 1012.0]
SON_RED_A = [1011.8, 1011.4,
             1011.7, 1012.1, 1011.8, 1012.2, 1011.6, 1012.0, 1011.8, 1012.3, 1011.9, 1011.6,
             1012.1, 1011.7, 1012.0, 1011.8, 1012.2, 1011.9, 1011.6, 1012.0, 1011.7, 1012.1,
             1011.8, 1012.0, 1011.6, 1011.9, 1011.3, 1011.8, 1012.1, 1011.7, 1012.0, 1011.8,
             1012.1, 1011.7, 1012.0, 1011.8, 1012.2, 1011.6, 1011.9, 1011.4, 1011.8, 1012.1,
             1011.8, 1012.0, 1011.7, 1012.2, 1011.8, 1011.6, 1012.0, 1012.4, 1011.9]
SON_RED_B = [1011.5, 1012.0,
             1011.9, 1011.6, 1012.0, 1011.7, 1012.1, 1011.9, 1011.6, 1012.0, 1011.7, 1012.2,
             1011.8, 1012.0, 1011.6, 1012.1, 1011.8, 1011.6, 1012.0, 1011.8, 1012.2, 1011.7,
             1012.0, 1011.7, 1011.9, 1011.5, 1011.8, 1011.6, 1011.9, 1012.1, 1011.7, 1012.0,
             1011.7, 1012.1, 1011.8, 1011.9, 1011.6, 1012.0, 1011.7, 1011.5, 1011.9, 1011.7,
             1012.0, 1011.8, 1012.1, 1011.7, 1012.0, 1011.8, 1012.1, 1012.0, 1011.7]

# ---------------- styles ----------------
STYLE = {
    "gray_a": ("#2a2a2a", 0.7), "gray_b": ("#6e6e6e", 0.7), "gray_c": ("#a8a8a8", 0.7),
    "green_a": ("#22cc22", 0.7), "green_b": ("#8be88b", 0.7),
    "blue_a": ("#2a2aff", 0.7), "blue_b": ("#8c8cff", 0.7),
    "red_a": ("#ff2020", 0.7), "red_b": ("#ff8a8a", 0.7),
    "thick": ("#000000", 1.1),
    "cyan_a": ("#20e8f2", 0.75), "cyan_b": ("#90f6ff", 0.7), "cyan_c": ("#5aeeff", 0.7),
}

PANELS = [
    dict(label="mslp1_djf", yr=(1007, 1015), dy=2,
         series=[(YEARS, DJF_GRAY_C, "gray_c"), (YEARS, DJF_GRAY_B, "gray_b"), (YEARS, DJF_GRAY_A, "gray_a"),
                 (YEARS_GREEN, DJF_GREEN_B, "green_b"), (YEARS_GREEN, DJF_GREEN_A, "green_a"),
                 (YEARS_LATE, DJF_BLUE_B, "blue_b"), (YEARS_LATE, DJF_BLUE_A, "blue_a"),
                 (YEARS_LATE, DJF_RED_B, "red_b"), (YEARS_LATE, DJF_RED_A, "red_a"),
                 (YEARS, DJF_THICK, "thick"),
                 (YEARS, DJF_CYAN_B, "cyan_b"), (YEARS, DJF_CYAN_C, "cyan_c"), (YEARS, DJF_CYAN_A, "cyan_a")]),
    dict(label="mslp1_mam", yr=(1008, 1015), dy=1,
         series=[(YEARS, MAM_GRAY_C, "gray_c"), (YEARS, MAM_GRAY_B, "gray_b"), (YEARS, MAM_GRAY_A, "gray_a"),
                 (YEARS_GREEN, MAM_GREEN_B, "green_b"), (YEARS_GREEN, MAM_GREEN_A, "green_a"),
                 (YEARS_LATE, MAM_BLUE_B, "blue_b"), (YEARS_LATE, MAM_BLUE_A, "blue_a"),
                 (YEARS_LATE, MAM_RED_B, "red_b"), (YEARS_LATE, MAM_RED_A, "red_a"),
                 (YEARS, MAM_THICK, "thick"),
                 (YEARS, MAM_CYAN_B, "cyan_b"), (YEARS, MAM_CYAN_C, "cyan_c"), (YEARS, MAM_CYAN_A, "cyan_a")]),
    dict(label="mslp1_jja", yr=(1009, 1015), dy=1,
         series=[(YEARS, JJA_GRAY_C, "gray_c"), (YEARS, JJA_GRAY_B, "gray_b"), (YEARS, JJA_GRAY_A, "gray_a"),
                 (YEARS_GREEN, JJA_GREEN_B, "green_b"), (YEARS_GREEN, JJA_GREEN_A, "green_a"),
                 (YEARS_LATE, JJA_BLUE_B, "blue_b"), (YEARS_LATE, JJA_BLUE_A, "blue_a"),
                 (YEARS_LATE, JJA_RED_B, "red_b"), (YEARS_LATE, JJA_RED_A, "red_a"),
                 (YEARS, JJA_THICK, "thick"),
                 (YEARS, JJA_CYAN_B, "cyan_b"), (YEARS, JJA_CYAN_C, "cyan_c"), (YEARS, JJA_CYAN_A, "cyan_a")]),
    dict(label="mslp1_son", yr=(1009, 1017), dy=2,
         series=[(YEARS, SON_GRAY_C, "gray_c"), (YEARS, SON_GRAY_B, "gray_b"), (YEARS, SON_GRAY_A, "gray_a"),
                 (YEARS_GREEN, SON_GREEN_B, "green_b"), (YEARS_GREEN, SON_GREEN_A, "green_a"),
                 (YEARS_LATE, SON_BLUE_B, "blue_b"), (YEARS_LATE, SON_BLUE_A, "blue_a"),
                 (YEARS_LATE, SON_RED_B, "red_b"), (YEARS_LATE, SON_RED_A, "red_a"),
                 (YEARS, SON_THICK, "thick"),
                 (YEARS, SON_CYAN_B, "cyan_b"), (YEARS, SON_CYAN_C, "cyan_c"), (YEARS, SON_CYAN_A, "cyan_a")]),
]

W, H = 435, 379
# plot-area pixel boxes: (left, right, top, bottom)
BOXES = [(22, 185, 40, 151), (256, 418, 40, 151), (22, 185, 241, 352), (256, 418, 241, 352)]
TINY_RIGHT = [188, 430, 198, 432]
TINY_TOP = [0, 0, 200, 200]
TITLE_Y = [173, 173, 373, 373]


def px(x):
    return x / W


def py(y):
    return 1 - y / H


fig = go.Figure()
SANS = "Liberation Sans, Arial, sans-serif"
SERIF = "Liberation Serif, Times New Roman, serif"

annotations = []
for i, (panel, box) in enumerate(zip(PANELS, BOXES)):
    n = "" if i == 0 else str(i + 1)
    l, r, t, b = box
    for xs, ys, key in panel["series"]:
        color, width = STYLE[key]
        fig.add_trace(go.Scatter(x=xs, y=ys, mode="lines", xaxis="x" + n, yaxis="y" + n,
                                 line=dict(color=color, width=width), hoverinfo="skip",
                                 showlegend=False))
    lo, hi = panel["yr"]
    fig.layout["xaxis" + n] = dict(
        domain=[px(l), px(r)], anchor="y" + n, range=[1939.5, 1998.5],
        tickmode="array", tickvals=DECADE_TICKS, ticktext=DECADE_LABELS,
        ticks="outside", ticklen=3, tickwidth=1, tickcolor="#000",
        minor=dict(tickmode="linear", tick0=1939.5, dtick=1, ticks="outside", ticklen=2,
                   tickwidth=0.7, tickcolor="#000", showgrid=False),
        showline=True, linecolor="#000", linewidth=1, mirror="ticks",
        showgrid=False, zeroline=False,
        tickfont=dict(family=SANS, size=8, color="#444"), fixedrange=True)
    fig.layout["yaxis" + n] = dict(
        domain=[py(b), py(t)], anchor="x" + n, range=[lo, hi],
        tickmode="linear", tick0=lo, dtick=panel["dy"], tickformat=".1f",
        ticks="outside", ticklen=3, tickwidth=1, tickcolor="#000",
        minor=dict(tickmode="linear", tick0=lo, dtick=1 if panel["dy"] == 2 else 0.5,
                   ticks="outside", ticklen=2, tickwidth=0.7, tickcolor="#000", showgrid=False),
        showline=True, linecolor="#000", linewidth=1, mirror="ticks",
        showgrid=False, zeroline=False,
        tickfont=dict(family=SANS, size=5.5, color="#000"), fixedrange=True)

    # header texts
    hdr = dict(family=SANS, size=6.5, color="#222")
    annotations.append(dict(x=px(l), y=py(t - 27), xref="paper", yref="paper", xanchor="left",
                            yanchor="middle", showarrow=False,
                            text="LONGITUDE : 30E to 130E", font=hdr))
    annotations.append(dict(x=px(l), y=py(t - 20), xref="paper", yref="paper", xanchor="left",
                            yanchor="middle", showarrow=False,
                            text="LATITUDE : 30S to 20N", font=hdr))
    annotations.append(dict(x=px(l + 102), y=py(t - 20), xref="paper", yref="paper",
                            xanchor="left", yanchor="middle", showarrow=False,
                            text="DATA SET: " + panel["label"], font=hdr))
    annotations.append(dict(x=px(TINY_RIGHT[i]), y=py(TINY_TOP[i]), xref="paper", yref="paper",
                            xanchor="right", yanchor="top", showarrow=False, align="center",
                            text="FERRET Ver. 5.81<br>NOAA/PMEL TMAP<br>Jun 14 2006 12:03:08",
                            font=dict(family=SANS, size=2.6, color="#000")))
    annotations.append(dict(x=px((l + r) / 2 + 1), y=py(TITLE_Y[i]), xref="paper", yref="paper",
                            xanchor="center", yanchor="middle", showarrow=False,
                            text="P[X=30:130@AVE,Y=-30:20@AVE]/100.0",
                            font=dict(family=SERIF, size=9, color="#888")))

annotations.append(dict(x=px(131), y=py(29), xref="paper", yref="paper", xanchor="left",
                        yanchor="middle", showarrow=False,
                        text="[14/06/06]/home/don/WORK/IndianOceanSLP/ISLP",
                        font=dict(family=SANS, size=8.5, color="#a0a0a0")))

fig.update_layout(width=W, height=H, margin=dict(l=0, r=0, t=0, b=0),
                  paper_bgcolor="#fff", plot_bgcolor="#fff",
                  annotations=annotations, showlegend=False)

fig.write_html("out.html", config={"displayModeBar": False},
               post_script="document.body.style.margin='0';document.body.style.overflow='hidden';")
